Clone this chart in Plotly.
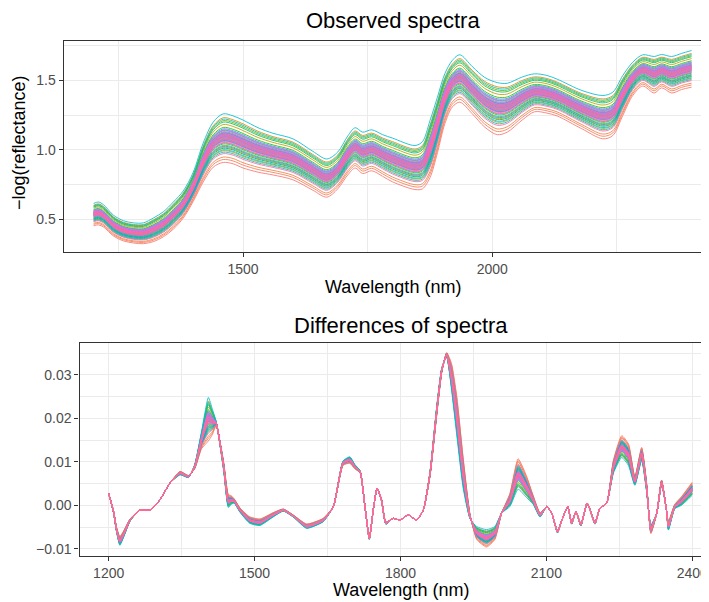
import math
import plotly.graph_objects as go

# ---------------- data ----------------
# Observed spectra: envelope curves (highest sample, lowest sample)
spec_nm = [1200, 1210, 1220, 1240, 1260, 1280, 1300, 1320, 1340, 1360, 1380, 1400,
           1420, 1440, 1460, 1480, 1500, 1530, 1560, 1600, 1640, 1668, 1690, 1710,
           1725, 1740, 1758, 1780, 1800, 1845, 1860, 1875, 1890, 1905, 1920, 1935,
           1960, 1985, 2010, 2030, 2060, 2085, 2110, 2130, 2180, 2222, 2242, 2262,
           2282, 2302, 2325, 2340, 2360, 2380, 2400]
spec_upper = [0.615, 0.625, 0.605, 0.530, 0.490, 0.475, 0.475, 0.510, 0.555, 0.625, 0.705, 0.840,
              1.050, 1.200, 1.260, 1.245, 1.215, 1.160, 1.120, 1.080, 0.990, 0.935, 0.985, 1.100,
              1.160, 1.128, 1.145, 1.110, 1.085, 1.032, 1.060, 1.210, 1.380, 1.550, 1.645, 1.685,
              1.600, 1.522, 1.485, 1.480, 1.525, 1.548, 1.536, 1.510, 1.428, 1.392, 1.416, 1.536,
              1.632, 1.685, 1.673, 1.687, 1.673, 1.695, 1.716]
spec_lower = [0.455, 0.460, 0.445, 0.380, 0.345, 0.330, 0.325, 0.340, 0.375, 0.430, 0.510, 0.630,
              0.770, 0.876, 0.910, 0.900, 0.870, 0.840, 0.820, 0.785, 0.710, 0.660, 0.720, 0.820,
              0.870, 0.830, 0.850, 0.810, 0.770, 0.715, 0.720, 0.800, 0.980, 1.190, 1.310, 1.344,
              1.260, 1.164, 1.110, 1.128, 1.215, 1.275, 1.265, 1.245, 1.152, 1.080, 1.104, 1.248,
              1.392, 1.460, 1.410, 1.447, 1.410, 1.435, 1.452]

# Differences of spectra: central curve and (high - low sample) contrast
diff_nm = [1200, 1210, 1216, 1223, 1230, 1244, 1264, 1285, 1305, 1326, 1347, 1364, 1377,
           1391, 1405, 1413, 1421, 1430, 1437, 1446, 1452, 1458, 1470, 1490, 1511, 1538,
           1559, 1580, 1607, 1641, 1662, 1682, 1696, 1706, 1717, 1727, 1736, 1744, 1752,
           1761, 1770, 1785, 1799, 1816, 1833, 1847, 1861, 1874, 1885, 1895, 1905, 1916,
           1929, 1943, 1957, 1977, 1994, 2008, 2025, 2042, 2059, 2073, 2087, 2101, 2111,
           2123, 2132, 2144, 2152, 2161, 2171, 2184, 2200, 2210, 2224, 2238, 2255, 2269,
           2282, 2296, 2306, 2315, 2327, 2337, 2347, 2351, 2364, 2378, 2400]
diff_center = [0.0027, -0.0015, -0.0055, -0.0082, -0.0068, -0.0034, -0.0011, -0.0011, 0.0012,
               0.0051, 0.0074, 0.0066, 0.0089, 0.0150, 0.0198, 0.0192, 0.0188, 0.0135, 0.0085,
               0.0010, 0.0012, 0.0010, -0.0011, -0.0034, -0.0039, -0.0022, -0.0011, -0.0025,
               -0.0048, -0.0034, -0.0003, 0.0097, 0.0104, 0.0089, 0.0077, -0.0003, -0.0076,
               -0.0011, 0.0039, 0.0012, -0.0041, -0.0030, -0.0034, -0.0022, -0.0034, -0.0011,
               0.0074, 0.0211, 0.0311, 0.0346, 0.0296, 0.0204, 0.0074, -0.0026, -0.0064,
               -0.0076, -0.0064, -0.0018, 0.0012, 0.0072, 0.0043, 0.0012, -0.0022, -0.0003,
               -0.0018, -0.0061, -0.0034, -0.0003, -0.0041, -0.0015, -0.0045, 0.0005, -0.0041,
               -0.0007, 0.0005, 0.0089, 0.0135, 0.0116, 0.0056, 0.0118, 0.0043, -0.0055,
               -0.0018, 0.0053, -0.0011, -0.0047, -0.0003, 0.0010, 0.0038]
diff_contrast = [0.0, -0.0005, -0.001, -0.002, -0.0015, -0.0005, 0.0, 0.0, 0.0,
                 0.0, -0.0008, -0.0005, 0.001, 0.004, 0.010, 0.006, 0.001, -0.001, -0.002,
                 -0.003, -0.002, -0.001, -0.001, -0.0015, -0.0015, -0.001, -0.0005, -0.0005,
                 -0.001, -0.0008, 0.0, 0.001, 0.0015, 0.001, 0.0005, 0.0, -0.0005,
                 0.0, 0.0, -0.0005, -0.0005, 0.0, 0.0, 0.0, 0.0, 0.0,
                 0.001, 0.002, 0.001, -0.001, -0.006, -0.009, -0.007, -0.001, 0.003,
                 0.004, 0.003, 0.0, -0.003, -0.007, -0.005, -0.002, -0.001, 0.0,
                 0.0, -0.0005, 0.0, 0.0, -0.0005, 0.0, -0.0005, 0.0, -0.0005,
                 0.0, 0.0, -0.003, -0.005, -0.005, -0.002, -0.003, -0.002, 0.002,
                 0.0, -0.001, 0.0, -0.002, -0.001, -0.002, -0.003]

# relative position of each sample between lowest (0) and highest (1) spectrum
sample_position = [0.00, 0.06, 0.11, 0.31, 0.92, 0.48, 0.24, 0.58, 0.78, 0.40,
                   0.63, 0.52, 0.35, 0.86, 0.55, 0.72, 0.45, 0.29, 0.61, 0.83,
                   0.50, 0.66, 0.38, 0.57, 0.89, 0.21, 1.00, 0.26, 0.69, 0.44,
                   0.53, 0.60, 0.33, 0.47, 0.65, 0.54, 0.58, 0.49, 0.62, 0.51,
                   0.43, 0.56, 0.67, 0.46, 0.59, 0.41, 0.52, 0.18, 0.55, 0.48]

# ---------------- styling ----------------
FONT = "Liberation Sans, Arial, Helvetica, sans-serif"
OFF = 8                      # default page margin of the html body
W, H = 709 - OFF, 602 - OFF  # figure size so that it ends at the window edge


def hcl_hex(h, c=100.0, l=65.0):
    hr = math.radians(h)
    U, V = c * math.cos(hr), c * math.sin(hr)
    Xn, Yn, Zn = 95.047, 100.0, 108.883
    Y = Yn * ((l + 16) / 116) ** 3 if l > 7.999592 else Yn * l / 903.3
    den = Xn + 15 * Yn + 3 * Zn
    un, vn = 4 * Xn / den, 9 * Yn / den
    u = U / (13 * l) + un
    v = V / (13 * l) + vn
    X = 9.0 * Y * u / (4 * v)
    Z = -X / 3 - 5 * Y + 3 * Y / v
    X, Y, Z = X / 100, Y / 100, Z / 100
    rgb = [3.240479 * X - 1.537150 * Y - 0.498535 * Z,
           -0.969256 * X + 1.875992 * Y + 0.041556 * Z,
           0.055648 * X - 0.204043 * Y + 1.057311 * Z]
    out = []
    for ch in rgb:
        ch = 1.055 * ch ** (1 / 2.4) - 0.055 if ch > 0.00304 else 12.92 * ch
        out.append(int(round(min(max(ch, 0), 1) * 255)))
    return "#%02X%02X%02X" % tuple(out)


n = len(sample_position)
colors = [hcl_hex(15 + 360 * i / n) for i in range(n)]

fig = go.Figure()
for i, t in enumerate(sample_position):
    ys = [lo + t * (up - lo) for lo, up in zip(spec_lower, spec_upper)]
    fig.add_trace(go.Scatter(x=spec_nm, y=ys, mode="lines", xaxis="x", yaxis="y",
                             line=dict(color=colors[i], width=0.85, shape="spline", smoothing=0.9),
                             showlegend=False, hoverinfo="skip"))
for i, t in enumerate(sample_position):
    ys = [c + (t - 0.5) * s for c, s in zip(diff_center, diff_contrast)]
    fig.add_trace(go.Scatter(x=diff_nm, y=ys, mode="lines", xaxis="x2", yaxis="y2",
                             line=dict(color=colors[i], width=0.85, shape="spline", smoothing=0.5),
                             showlegend=False, hoverinfo="skip"))

GRID = "#EBEBEB"
AX = "#333333"
TICKFONT = dict(family=FONT, size=14, color="#4D4D4D")


def axis(**kw):
    base = dict(ticks="outside", ticklen=4, tickwidth=1.2, tickcolor=AX, tickfont=TICKFONT,
                showgrid=True, gridcolor=GRID, gridwidth=1.2, zeroline=False,
                showline=True, linecolor=AX, linewidth=1.3, automargin=False, tickmode="linear")
    base.update(kw)
    return base


def px_x(x):  # window pixel -> paper x
    return (x - OFF) / W


def px_y(y):  # window pixel -> paper y
    return 1 - (y - OFF) / H


top_y0, top_y1 = 40.5, 252.3
bot_y0, bot_y1 = 343.3, 556.0
top_x0, bot_x0 = 63.7, 79.5

fig.update_layout(
    width=W, height=H, margin=dict(l=0, r=0, t=0, b=0),
    paper_bgcolor="white", plot_bgcolor="white", template="none",
    font=dict(family=FONT),
    xaxis=axis(domain=[px_x(top_x0), 1], range=[1140, 1140 + (709 - top_x0) / 0.4983], anchor="y",
               tick0=1500, dtick=500, mirror=True,
               minor=dict(tick0=1250, dtick=250, showgrid=True, gridcolor=GRID, gridwidth=0.6)),
    yaxis=axis(domain=[px_y(top_y1), px_y(top_y0)], range=[0.263, 1.788], anchor="x",
               tick0=0.5, dtick=0.5, tickformat=".1f",
               minor=dict(tick0=0.25, dtick=0.25, showgrid=True, gridcolor=GRID, gridwidth=0.6)),
    xaxis2=axis(domain=[px_x(bot_x0), 1], range=[1140, 1140 + (709 - bot_x0) / 0.4863], anchor="y2",
                tick0=1200, dtick=300, mirror=True,
                minor=dict(tick0=1200, dtick=150, showgrid=True, gridcolor=GRID, gridwidth=0.6)),
    yaxis2=axis(domain=[px_y(bot_y1), px_y(bot_y0)], range=[-0.01166, 0.03724], anchor="x2",
                tick0=0, dtick=0.01, tickformat=".2f",
                minor=dict(tick0=0, dtick=0.005, showgrid=True, gridcolor=GRID, gridwidth=0.6)),
)

top_cx = (top_x0 + 721.5) / 2
bot_cx = (bot_x0 + 721.5) / 2


def ann(text, x, y, size, angle=0):
    return dict(text=text, x=px_x(x), y=px_y(y), xref="paper", yref="paper",
                xanchor="center", yanchor="middle", showarrow=False, textangle=angle,
                font=dict(family=FONT, size=size, color="black"))


fig.update_layout(annotations=[
    ann("Observed spectra", top_cx, 20, 22),
    ann("Wavelength (nm)", top_cx, 287, 18),
    ann("\u2212log(reflectance)", 19, 143, 18, angle=-90),
    ann("Differences of spectra", bot_cx, 325, 22),
    ann("Wavelength (nm)", bot_cx, 590, 18),
])

fig.write_html("out.html")
